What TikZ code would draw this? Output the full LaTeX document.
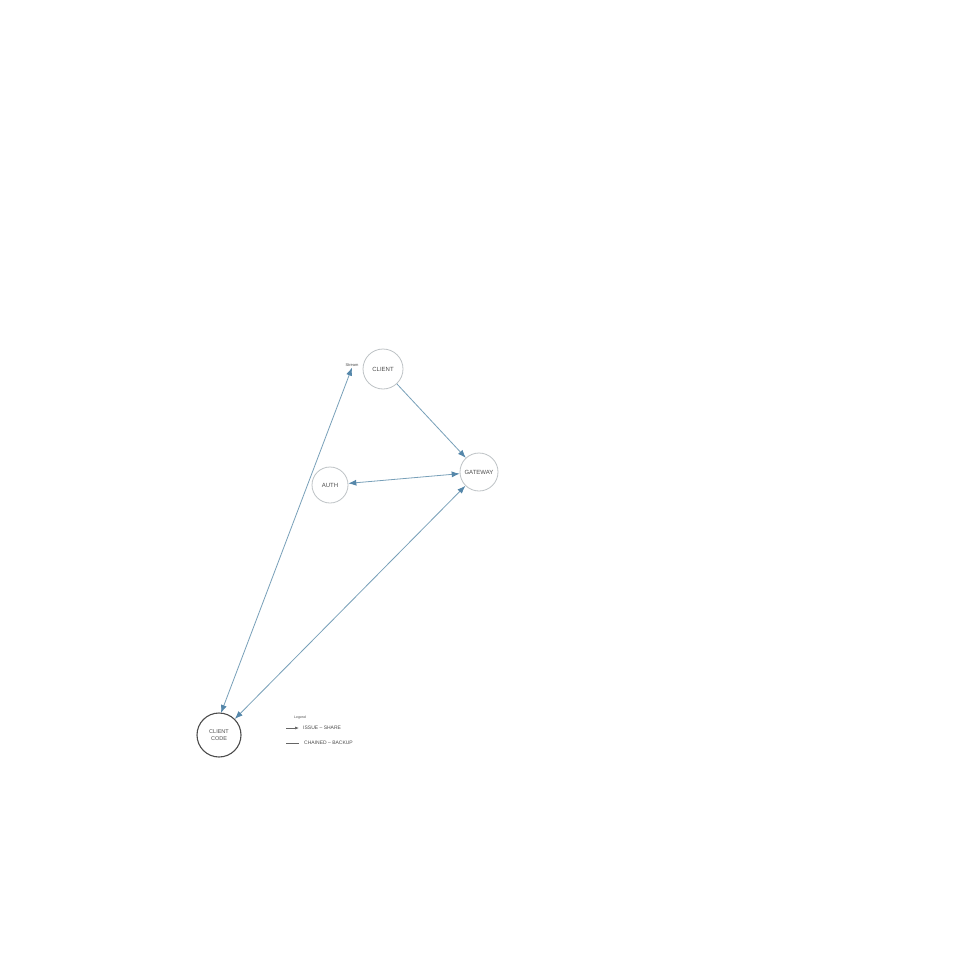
\documentclass[tikz,border=0pt]{standalone}
\usepackage{fontspec}
\setmainfont{Liberation Sans}
\usetikzlibrary{arrows.meta}
\definecolor{edgec}{RGB}{120,160,185}
\definecolor{tipc}{RGB}{85,135,170}
\definecolor{ringc}{RGB}{190,195,198}
\begin{document}
\begin{tikzpicture}[x=1pt,y=-1pt,
  ring/.style={circle,draw=ringc,line width=0.8pt,fill=white,inner sep=0pt,font=\fontsize{6}{7}\selectfont,text=black!70},
  edge/.style={draw=edgec,line width=0.8pt,-{Latex[length=8pt,width=6pt,color=tipc]}},
  bedge/.style={draw=edgec,line width=0.8pt,{Latex[length=8pt,width=6pt,color=tipc]}-{Latex[length=8pt,width=6pt,color=tipc]}},
  small/.style={font=\fontsize{4}{5}\selectfont,text=black!70,inner sep=1pt}]
\useasboundingbox (0,0) rectangle (960,960);
\fill[white] (0,0) rectangle (960,960);
\node[ring,minimum size=40pt] (client) at (383,369) {CLIENT};
\node[ring,minimum size=38pt] (gateway) at (479,472) {GATEWAY};
\node[ring,minimum size=36pt] (auth) at (330,485) {AUTH};
\node[ring,minimum size=44pt,draw=black!70,line width=1.1pt,align=center,font=\fontsize{5.5}{7}\selectfont] (code) at (219,735) {CLIENT\\CODE};
\node[small] (stream) at (352,365) {Stream};
\coordinate (codetop) at (221,713);
\draw[edge] (client) -- (gateway);
\draw[bedge] (auth) -- (gateway);
\draw[bedge] (gateway) -- (code);
\draw[bedge] (stream.south) -- (codetop);
% legend
\node[small,anchor=west,font=\fontsize{3.5}{4}\selectfont] (legend) at (293,718) {Legend};
\coordinate (l1a) at (286,728);
\coordinate (l1b) at (299,728);
\draw[draw=black!60,line width=0.6pt,-{Latex[length=4pt,width=3pt]}] (l1a) -- (l1b);
\node[small,anchor=west,font=\fontsize{5}{6}\selectfont] (t1) at (302,728) {ISSUE -- SHARE};
\coordinate (l2a) at (286,743);
\coordinate (l2b) at (299,743);
\draw[draw=black!60,line width=0.6pt] (l2a) -- (l2b);
\node[small,anchor=west,font=\fontsize{5}{6}\selectfont] (t2) at (303,743) {CHAINED -- BACKUP};
\end{tikzpicture}
\end{document}
